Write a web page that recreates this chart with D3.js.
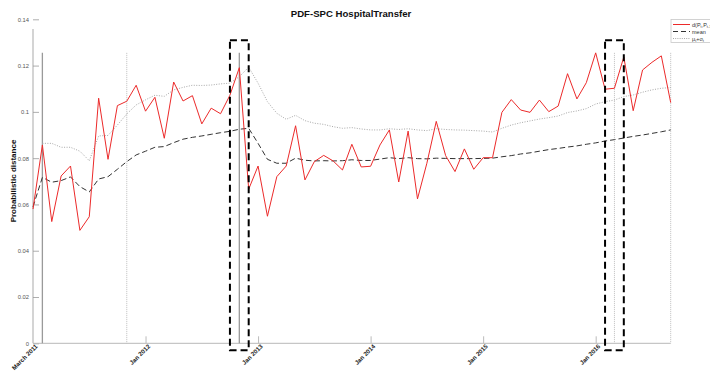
<!DOCTYPE html>
<html>
<head>
<meta charset="utf-8">
<script src="https://cdn.jsdelivr.net/npm/d3@7"></script>
<style>
  html, body { margin: 0; padding: 0; background: #fff; }
  svg { display: block; font-family: "Liberation Sans", Arial, Helvetica, sans-serif; }
</style>
</head>
<body>
<svg id="chart" width="710" height="375"></svg>
<script>
// Monthly probabilistic distance between consecutive distributions (index 0 = March 2011)
const distance = [
  0.0580, 0.0857, 0.0526, 0.0723, 0.0766, 0.0488, 0.0547, 0.1059, 0.0795, 0.1027,
  0.1046, 0.1115, 0.1003, 0.1063, 0.0886, 0.1129, 0.1047, 0.1070, 0.0948, 0.1016,
  0.0992, 0.1072, 0.1191, 0.0666, 0.0766, 0.0549, 0.0720, 0.0766, 0.0940, 0.0706,
  0.0785, 0.0812, 0.0788, 0.0749, 0.0860, 0.0762, 0.0765, 0.0857, 0.0922, 0.0697,
  0.0917, 0.0624, 0.0778, 0.0959, 0.0811, 0.0742, 0.0840, 0.0752, 0.0802, 0.0802,
  0.0998, 0.1053, 0.1008, 0.0998, 0.1051, 0.1001, 0.1025, 0.1165, 0.1056, 0.1126,
  0.1255, 0.1098, 0.1102, 0.1237, 0.1005, 0.1181, 0.1214, 0.1242, 0.1040
];

// Running mean of the distance
const runningMean = [
  0.0590, 0.0717, 0.0696, 0.0703, 0.0719, 0.0677, 0.0654, 0.0710, 0.0720, 0.0752,
  0.0785, 0.0814, 0.0830, 0.0847, 0.0850, 0.0867, 0.0882, 0.0890, 0.0896, 0.0903,
  0.0910, 0.0916, 0.0925, 0.0929, 0.0864, 0.0795, 0.0778, 0.0778, 0.0800, 0.0791,
  0.0788, 0.0789, 0.0788, 0.0789, 0.0793, 0.0790, 0.0790, 0.0796, 0.0802, 0.0798,
  0.0802, 0.0798, 0.0797, 0.0800, 0.0799, 0.0798, 0.0798, 0.0798, 0.0799, 0.0800,
  0.0806, 0.0811, 0.0818, 0.0823, 0.0830, 0.0837, 0.0842, 0.0848, 0.0853, 0.0860,
  0.0866, 0.0874, 0.0880, 0.0887, 0.0894, 0.0900, 0.0907, 0.0914, 0.0922
];

// Upper band (mean + sigma), defined from index 1 onward
const upperBand = [
  null,   0.0864, 0.0864, 0.0847, 0.0847, 0.0830, 0.0789, 0.0896, 0.0898, 0.0943,
  0.0991, 0.1030, 0.1052, 0.1072, 0.1067, 0.1095, 0.1106, 0.1115, 0.1114, 0.1116,
  0.1121, 0.1124, 0.1152, 0.1193, 0.1124, 0.1044, 0.0994, 0.0968, 0.0985, 0.0962,
  0.0951, 0.0946, 0.0936, 0.0929, 0.0932, 0.0926, 0.0922, 0.0922, 0.0927, 0.0924,
  0.0927, 0.0922, 0.0919, 0.0927, 0.0924, 0.0922, 0.0921, 0.0919, 0.0917, 0.0913,
  0.0929, 0.0943, 0.0953, 0.0961, 0.0969, 0.0975, 0.0982, 0.0997, 0.1004, 0.1014,
  0.1034, 0.1044, 0.1051, 0.1066, 0.1073, 0.1085, 0.1095, 0.1102, 0.1105
];

// Axis ticks
const xTickIndex = [0, 12, 24, 36, 48, 60];
const xTickLabels = ["March 2011", "Jan 2012", "Jan 2013", "Jan 2014", "Jan 2015", "Jan 2016"];
const yTicks = [0, 0.02, 0.04, 0.06, 0.08, 0.1, 0.12, 0.14];

// Reference markers (index positions)
const solidMarkers = [1, 22];
const dottedMarkers = [10, 62, 68];
const markerTop = 0.1255;

// Highlighted change windows: [start index, end index]
const changeWindows = [[21, 23], [61, 63]];
const windowLow = -0.003, windowHigh = 0.131;

const svg = d3.select("#chart");

const x = d3.scaleLinear().domain([0, distance.length - 1]).range([33, 670.7]);
const y = d3.scaleLinear().domain([0, 0.14]).range([343.3, 19.3]);

// Title
svg.append("text")
  .attr("x", 351).attr("y", 17)
  .attr("text-anchor", "middle")
  .attr("font-size", 9.6).attr("font-weight", "bold")
  .attr("fill", "#111")
  .text("PDF-SPC HospitalTransfer");

// Y axis label
svg.append("text")
  .attr("transform", "translate(16,181) rotate(-90)")
  .attr("text-anchor", "middle")
  .attr("font-size", 8).attr("font-weight", "bold")
  .attr("fill", "#111")
  .text("Probabilistic distance");

// Y axis
const yAxis = d3.axisLeft(y)
  .tickValues(yTicks)
  .tickSize(-6)
  .tickPadding(4)
  .tickFormat(d => d3.format("~g")(+d.toFixed(2)));
const gy = svg.append("g").attr("transform", "translate(33,0)").call(yAxis);
gy.select(".domain").attr("stroke", "#d4d4d4").attr("stroke-width", 2)
  .attr("d", `M0,${y(0.1358)}V${y(0)}`);
gy.selectAll(".tick line").attr("stroke", "#999").attr("stroke-width", 0.8);
gy.selectAll(".tick text").attr("font-size", 5.8).attr("fill", "#555")
  .attr("font-family", "Liberation Sans, Arial, sans-serif");

// X axis
const xAxis = d3.axisBottom(x)
  .tickValues(xTickIndex)
  .tickSize(-7)
  .tickFormat((d, i) => xTickLabels[i]);
const gx = svg.append("g").attr("transform", `translate(0,${y(0)})`).call(xAxis);
gx.select(".domain").attr("stroke", "#b8b8b8").attr("stroke-width", 1)
  .attr("d", `M${x(0)},0H${x(distance.length - 1)}`);
gx.selectAll(".tick line").attr("stroke", "#bbb").attr("stroke-width", 1)
  .filter(d => d === 0).remove();
gx.selectAll(".tick text")
  .attr("font-size", 6.2).attr("font-weight", "bold").attr("fill", "#222")
  .attr("font-family", "Liberation Sans, Arial, sans-serif")
  .attr("text-anchor", "end")
  .attr("transform", "translate(3,2) rotate(-45)")
  .attr("dy", "0.35em").attr("y", 0).attr("x", 0);

// Reference markers
svg.append("g").selectAll("line").data(solidMarkers).join("line")
  .attr("x1", d => x(d)).attr("x2", d => x(d))
  .attr("y1", y(markerTop)).attr("y2", y(0))
  .attr("stroke", "#9a9a9a").attr("stroke-width", 1.3);
svg.append("g").selectAll("line").data(dottedMarkers).join("line")
  .attr("x1", d => x(d)).attr("x2", d => x(d))
  .attr("y1", y(markerTop)).attr("y2", y(0))
  .attr("stroke", "#bdbdbd").attr("stroke-width", 1)
  .attr("stroke-dasharray", "1,1");

// Series lines
const line = d3.line()
  .defined(d => d != null)
  .x((d, i) => x(i))
  .y(d => y(d));

svg.append("path").datum(upperBand)
  .attr("d", line).attr("fill", "none")
  .attr("stroke", "#a8a8a8").attr("stroke-width", 1)
  .attr("stroke-dasharray", "1,1.5");

svg.append("path").datum(runningMean)
  .attr("d", line).attr("fill", "none")
  .attr("stroke", "#333").attr("stroke-width", 1)
  .attr("stroke-dasharray", "5.5,3");

svg.append("path").datum(distance)
  .attr("d", line).attr("fill", "none")
  .attr("stroke", "#ec2a2a").attr("stroke-width", 1)
  .attr("stroke-linejoin", "miter");

// Change windows
svg.append("g").selectAll("rect").data(changeWindows).join("rect")
  .attr("x", d => x(d[0])).attr("width", d => x(d[1]) - x(d[0]))
  .attr("y", y(windowHigh)).attr("height", y(windowLow) - y(windowHigh))
  .attr("fill", "none").attr("stroke", "#000").attr("stroke-width", 2)
  .attr("stroke-dasharray", "7,4");

// Legend
const legendItems = [
  { color: "#ec2a2a", dash: null, width: 1 },
  { color: "#333", dash: "5,3", width: 1 },
  { color: "#a8a8a8", dash: "1,1.2", width: 1 }
];
const lg = svg.append("g").attr("transform", "translate(671,19.5)");
lg.append("rect").attr("x", 0).attr("y", 0).attr("width", 60).attr("height", 23)
  .attr("fill", "#fff").attr("stroke", "#c8c8c8").attr("stroke-width", 0.8);
legendItems.forEach((it, i) => {
  const cy = 5 + i * 7;
  lg.append("line").attr("x1", 2).attr("x2", 19).attr("y1", cy).attr("y2", cy)
    .attr("stroke", it.color).attr("stroke-width", it.width)
    .attr("stroke-dasharray", it.dash);
});
const lt = lg.append("g").attr("font-size", 5.5).attr("fill", "#333");
const t1 = lt.append("text").attr("x", 21).attr("y", 7);
t1.append("tspan").text("d(P");
t1.append("tspan").attr("font-size", 3.8).attr("dy", 1).text("t");
t1.append("tspan").attr("dy", -1).text(",P");
t1.append("tspan").attr("font-size", 3.8).attr("dy", 1).text("t-1");
t1.append("tspan").attr("dy", -1).text(")");
lt.append("text").attr("x", 21).attr("y", 14).text("mean");
const t3 = lt.append("text").attr("x", 21).attr("y", 21);
t3.append("tspan").text("\u03bc");
t3.append("tspan").attr("font-size", 3.8).attr("dy", 1).text("t");
t3.append("tspan").attr("dy", -1).text("+\u03c3");
t3.append("tspan").attr("font-size", 3.8).attr("dy", 1).text("t");
</script>
</body>
</html>
